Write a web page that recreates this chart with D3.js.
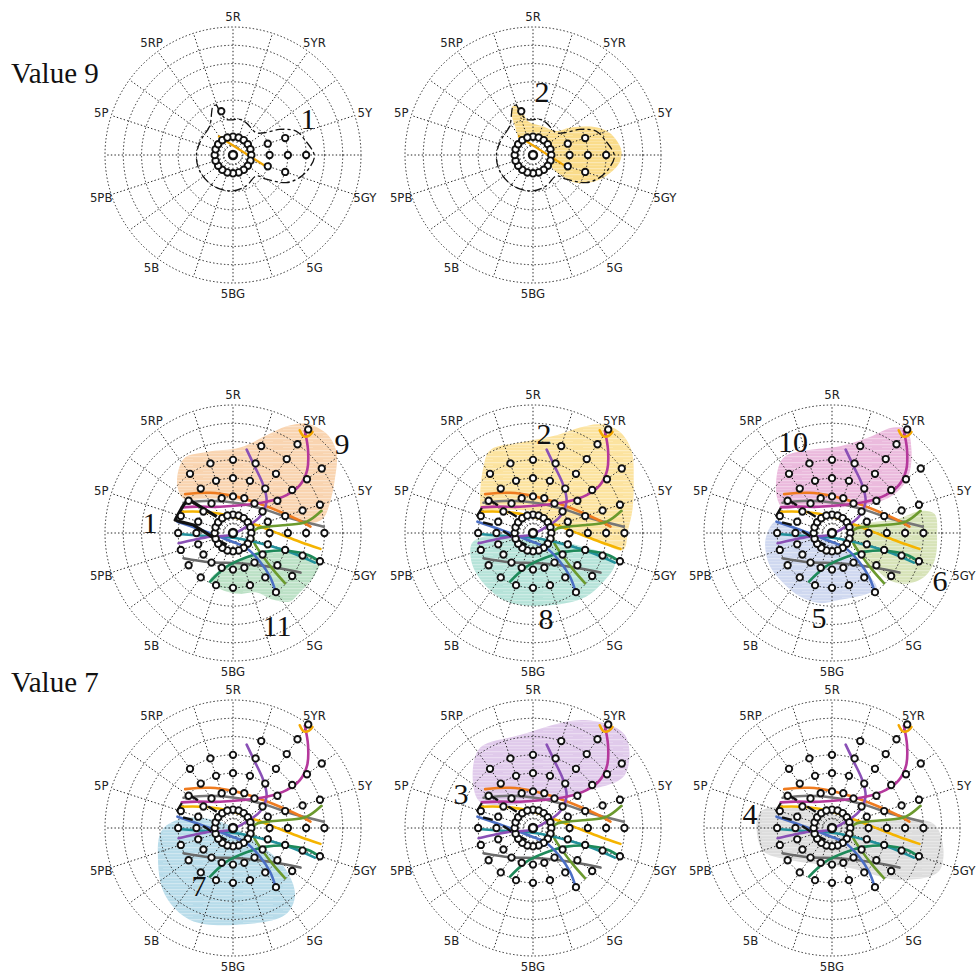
<!DOCTYPE html>
<html><head><meta charset="utf-8">
<script src="https://cdn.jsdelivr.net/npm/d3@7"></script>
<style>body{margin:0;background:#fff}</style>
</head><body><svg id="c" width="980" height="974"></svg>
<script>
// ---------- DATA ----------
const hueLabels = ["5R","5YR","5Y","5GY","5G","5BG","5B","5PB","5P","5RP"];
const hueLabelAngles = [0,36,72,108,144,180,216,252,288,324];
const spokeAngles = [0,18,36,54,72,90,108,126,144,162,180,198,216,234,252,270,288,306,324,342];
const ringLevels = [0.5,1,2,3,4,5,6,7];

// chips: value 9 plane  [hue angle, chroma ring]
const v9Chips = [[-15,2.48],[72,2],[72,3],[90,2],[90,3],[90,4],[108,2],[108,3]];
// value 7 plane: maximum chroma ring reached at each hue angle
const v7MaxRing = [4,5,7,6,5,5,5,4,4,3,3,3,3,3,3,3,3,3,4,4];
const innerRingAngles = spokeAngles;

// value 9 lines
const v9Line = [[-38,1.32],[110,2.03]];
const cat1v9 = [[-22,2.89],[-18.5,2.86],[-16.9,2.51],[-10.6,1.98],[10.6,1.98],[22.4,1.9],[46,1.76],[54.8,2.11],[61.2,2.9],[69.2,3.69],[77.7,4.0],[90.5,4.45],[99.4,4.24],[108.8,3.84],[117.4,3.28],[126,2.25],[132,1.71],[156.7,1.84],[180,1.96],[212.8,2.01],[244,2.02],[270,2.0],[296,1.93],[321,2.03]];
const cat2v9 = [[-22,2.9],[-14.3,2.57],[-8.4,1.87],[19,1.67],[44.2,1.83],[53.3,2.5],[64.7,3.62],[73.8,4.36],[86.3,4.83],[95,4.75],[106,4.16],[116,3.44],[124,2.63],[126,1.8],[121,1.17],[83,1.1],[40,1.12],[0,1.13],[-37.6,1.19],[-32,1.87],[-27,2.6]];

// value 7 curves
const lineMagenta = [[35.1,6.83],[42.2,6.11],[49.7,5.32],[54.4,4.5],[54.7,3.59],[47,2.51],[20.3,1.63],[-26.3,1.6],[-54,2.45],[-63.4,3.13]];
const linePurple = [[9.3,4.62],[18.3,3.81],[32.3,3.1],[47,2.51],[58.8,1.72],[65,0.82],[236,0.2],[261,1.27],[260,2.2],[259.3,3.03]];
const lineOrange = [[-50.9,3.37],[-29.7,2.53],[0.5,2.02],[38,2.1],[65.6,2.82],[79.6,3.72],[85.3,4.25]];
const lineGray = [[-58.6,3.17],[-35.4,2.16],[13.3,1.66],[55.7,2.22],[77,3.38],[86,4.98]];
const lineYellow = [[-68.1,3.12],[-51.4,1.84],[1,0.89],[71.3,1.36],[91.2,2.56],[97.4,3.68],[100.3,4.86]];
const lineOlive = [[75.9,4.99],[81.3,4.07],[81.5,2.96],[79.3,1.87],[82.2,1.21],[109,1.17],[128,2.1],[132.5,2.99],[134,3.95]];
const lineTeal = [[269,2.98],[263.5,1.45],[145,0.35],[109.6,1.95],[108.6,3.47],[109.9,4.76]];
const lineDkGreen = [[205.3,2.94],[190.7,1.87],[150.7,1.52],[119,2.1],[107.5,3.26],[106.3,4.28],[108.2,5.0]];
const lineBlue = [[-78.5,3.1],[-83.7,1.81],[241,0.6],[138,1.12],[136.7,2.15],[139.7,3.12],[144.2,4.01]];
const lineDkGray = [[243,3.04],[218,2.03],[167,1.7],[130.4,2.89],[120.4,4.28]];
const lineArc = [[33,6.7],[36.2,6.55],[38,6.76],[38.2,7.03]];
const cat1v7 = [[-45,1.26],[-53,3.05],[-60.6,3.11],[-73.8,3.2],[-77.4,3.24],[-77.9,2.96],[-78.6,2.2],[-90.7,1.44],[-113,0.97],[-152,0.74]];

// value 7 category regions
const cat9 = [[-40.9,4.55],[-32.4,4.89],[-17.9,4.66],[4.7,4.69],[19,5.65],[26.6,6.53],[33.9,7.2],[43.2,7.46],[51.9,7.19],[62.5,6.27],[73,5.53],[80.8,4.99],[82.8,4.23],[71.5,3.09],[44,2.12],[0.6,1.8],[-33.6,2.27],[-55,3.3],[-50.2,3.95]];
const cat11 = [[206.1,2.85],[199.4,2.14],[165.8,1.56],[127.9,1.87],[109.2,3.1],[106.6,4.19],[107.6,4.98],[117.1,5.03],[131.7,4.89],[140.3,4.87],[148.9,4.27],[158.4,3.5],[173.5,3.35],[189.5,3.19],[200.7,3.03]];
const cat2 = [[-36.8,4.52],[-27.4,5.1],[-6,5.01],[13.6,5.5],[24,6.31],[31.6,6.98],[40.6,7.29],[50,7.03],[62.3,6.22],[77,5.58],[88.2,5.2],[100.7,5.01],[96.3,3.49],[85.7,2.21],[66,1.21],[19.6,1.14],[-29.5,1.44],[-56.4,2.27],[-66.5,3.05],[-55.6,3.5]];
const cat8 = [[260.4,3.39],[265.8,2.72],[262,1.45],[176,0.29],[108,1.36],[105.2,2.85],[106.9,4.58],[111.3,4.8],[121.6,4.72],[139.9,4.54],[154.4,4.25],[174.5,4.0],[190.2,3.99],[203.9,4.0],[224.6,3.86],[243.7,3.73]];
const cat10 = [[-39,4.65],[-31.4,4.92],[-17,4.73],[5.3,4.77],[21.5,5.65],[30.1,6.67],[35.8,6.97],[43.8,6.28],[53.6,5.17],[58.2,3.94],[51.1,2.43],[3,1.4],[-47.4,2.12],[-63.1,2.98],[-56.7,3.61]];
const cat6 = [[73.5,1.21],[74.8,2.15],[78,3.6],[76,5.04],[79.5,5.71],[92,5.75],[104.7,5.81],[115.2,5.6],[124.3,4.93],[129.4,4.1],[129.6,3.16],[128.2,1.94],[113.8,1.17]];
const cat5 = [[269,3.56],[281.2,3.17],[279.7,2.05],[262,1.03],[182,0.47],[136,1.41],[138.4,2.58],[141,3.88],[150.4,3.83],[173.2,3.68],[189.7,3.89],[206.7,3.89],[224,3.82],[241.5,3.85],[258.5,3.73]];
const cat7 = [[268.4,3.88],[281.8,2.68],[300,0.5],[122,1.74],[127.6,3.58],[137.2,4.99],[149,5.54],[178.8,5.3],[205,5.55],[225.4,5.22],[246.9,4.46]];
const cat3 = [[-63,3.37],[-35.2,5.21],[-8,5.13],[25.7,6.55],[44.7,7.15],[60,5.8],[56.3,3.74],[23.2,1.66],[-50.6,1.98]];
const cat4 = [[-77.5,4.03],[-58,2.06],[74,1.59],[88.3,5.63],[111.3,6.33],[127.4,4.68],[155.8,2.4],[232.7,2.88],[252.5,4.0]];

const titles = ["Value 9","Value 7"];

// ---------- DRAWING ----------
const svg = d3.select("#c");
svg.append("rect").attr("width",980).attr("height",974).attr("fill","#fff");
const defs = svg.append("defs");
const pat = defs.append("pattern").attr("id","streak").attr("patternUnits","userSpaceOnUse").attr("width",40).attr("height",6);
pat.append("rect").attr("x",0).attr("y",1).attr("width",40).attr("height",1.2).attr("fill","#fff").attr("opacity",0.35);
pat.append("rect").attr("x",10).attr("y",4).attr("width",30).attr("height",0.8).attr("fill","#fff").attr("opacity",0.25);

const R = 128;
const r = d3.scaleLinear().domain([0,7]).range([0,R]);
const toRad = d3.scaleLinear().domain([0,360]).range([0,2*Math.PI]);
const smoothOpen = d3.lineRadial().angle(d=>toRad(d[0])).radius(d=>r(d[1])).curve(d3.curveCatmullRom.alpha(0.5));
const regionGen = d3.lineRadial().angle(d=>toRad(d[0])).radius(d=>r(d[1])).curve(d3.curveCatmullRomClosed.alpha(0.5));
const straight = d3.lineRadial().angle(d=>toRad(d[0])).radius(d=>r(d[1]));
function pos(a,c){const t=toRad(a);return [r(c)*Math.sin(t), -r(c)*Math.cos(t)];}

const v7Chips = [];
spokeAngles.forEach((a,i)=>{ for(let k=2;k<=v7MaxRing[i];k++) v7Chips.push([a,k]); });

const curves7 = [
  [lineGray,"#777777"],[lineDkGray,"#6a6a6a"],[lineOrange,"#ef7b1f"],[lineYellow,"#f5b400"],
  [lineOlive,"#6b9a2e"],[lineTeal,"#21909b"],[lineDkGreen,"#1e8a5a"],[lineBlue,"#4b6fc4"],
  [linePurple,"#8a50b6"],[lineMagenta,"#b5389c"],[lineArc,"#f5a800"]
];

const panels = [
  {cx:233,cy:155,plane:9,regions:[],labels:[["1",308,118]]},
  {cx:533,cy:155,plane:9,regions:[[cat2v9,"#fadc8a"]],labels:[["2",542,91]]},
  {cx:233,cy:533,plane:7,regions:[[cat9,"#f9d4b0"],[cat11,"#bce1c6"]],cat1:"solid",labels:[["1",150,522],["9",342,443],["11",277,625]]},
  {cx:533,cy:533,plane:7,regions:[[cat2,"#fce39f"],[cat8,"#b6e3d9"]],cat1:"dash",labels:[["2",544,433],["8",546,618]]},
  {cx:832,cy:533,plane:7,regions:[[cat10,"#ebbadd"],[cat6,"#d7e3b8"],[cat5,"#cfd8f0"]],cat1:"dash",labels:[["10",793,441],["6",940,580],["5",819,617]]},
  {cx:233,cy:828,plane:7,regions:[[cat7,"#b8dcea"]],cat1:"dash",labels:[["7",199,885]]},
  {cx:533,cy:828,plane:7,regions:[[cat3,"#e0caeb"]],cat1:"dash",labels:[["3",461,793]]},
  {cx:832,cy:828,plane:7,regions:[[cat4,"#dddddd"]],cat1:"dash",labels:[["4",750,813]]}
];

panels.forEach(p=>{
  const g = svg.append("g").attr("transform",`translate(${p.cx},${p.cy})`);
  p.regions.forEach(([pts,col])=>{
    g.append("path").attr("d",regionGen(pts)).attr("fill",col);
    g.append("path").attr("d",regionGen(pts)).attr("fill","url(#streak)");
  });
  const grid = g.append("g").attr("fill","none").attr("stroke","#222").attr("stroke-width",1).attr("stroke-dasharray","1.4,2.2");
  ringLevels.forEach(k=>grid.append("circle").attr("r",r(k)));
  spokeAngles.forEach(a=>{
    const [x0,y0]=pos(a,0.5),[x1,y1]=pos(a,7);
    grid.append("line").attr("x1",x0).attr("y1",y0).attr("x2",x1).attr("y2",y1);
  });
  hueLabels.forEach((lab,i)=>{
    const [x,y]=pos(hueLabelAngles[i],7.58);
    g.append("text").attr("x",x).attr("y",y).attr("text-anchor","middle").attr("dominant-baseline","central")
      .attr("font-family","'DejaVu Sans Condensed','DejaVu Sans',sans-serif").attr("font-stretch","condensed")
      .attr("font-size",13).attr("fill","#222").text(lab);
  });
  if(p.plane===9){
    g.append("path").attr("d",regionGen(cat1v9)).attr("fill","none").attr("stroke","#111").attr("stroke-width",1.3).attr("stroke-dasharray","9,3,3,3");
    g.append("path").attr("d",straight(v9Line)).attr("stroke","#f0a500").attr("stroke-width",2.2).attr("fill","none");
  } else {
    curves7.forEach(([pts,col])=>{
      g.append("path").attr("d",smoothOpen(pts)).attr("fill","none").attr("stroke",col).attr("stroke-width",2.6).attr("stroke-linecap","round");
    });
    const c1 = g.append("path").attr("d",straight(cat1v7)).attr("fill","none").attr("stroke","#111").attr("stroke-linejoin","round");
    if(p.cat1==="solid") c1.attr("stroke-width",3.2); else c1.attr("stroke-width",2.4).attr("stroke-dasharray","10,12");
  }
  const chips = p.plane===9 ? v9Chips : v7Chips;
  const cg = g.append("g").attr("fill","#fff").attr("stroke","#111").attr("stroke-width",1.9);
  innerRingAngles.forEach(a=>{const [x,y]=pos(a,1);cg.append("circle").attr("cx",x).attr("cy",y).attr("r",3.3);});
  chips.forEach(([a,c])=>{const [x,y]=pos(a,c);cg.append("circle").attr("cx",x).attr("cy",y).attr("r",3.2);});
  cg.append("circle").attr("r",4).attr("stroke-width",2.4);
  p.labels.forEach(([t,x,y])=>{
    svg.append("text").attr("x",x).attr("y",y).attr("text-anchor","middle").attr("dominant-baseline","central")
      .attr("font-family","'Liberation Serif','DejaVu Serif',serif").attr("font-size",30).attr("fill","#111").text(t);
  });
});

svg.append("text").attr("x",11).attr("y",83).attr("font-family","'Liberation Serif','DejaVu Serif',serif").attr("font-size",29).attr("fill","#111").text(titles[0]);
svg.append("text").attr("x",11).attr("y",692).attr("font-family","'Liberation Serif','DejaVu Serif',serif").attr("font-size",29).attr("fill","#111").text(titles[1]);
</script>
</body></html>
